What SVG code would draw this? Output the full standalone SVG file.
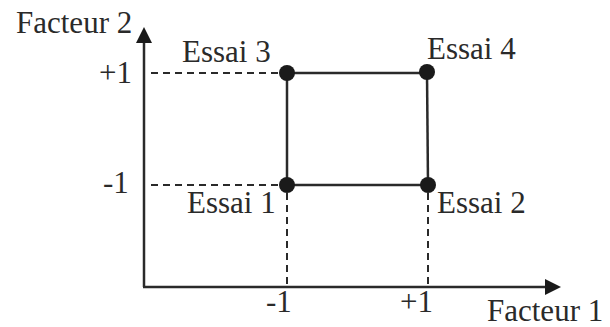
<svg xmlns="http://www.w3.org/2000/svg" width="610" height="327" viewBox="0 0 610 327">
<style>
text{font-family:"Liberation Serif","Times New Roman",serif;font-size:31px;fill:#2a2a2a}
.axis{stroke:#2a2a2a;stroke-width:2.5;fill:none}
.dash{stroke:#2a2a2a;stroke-width:2;stroke-dasharray:7 5;fill:none}
.edge{stroke:#2a2a2a;stroke-width:2.5;fill:none}
.pt{fill:#1a1a1a}
</style>
<rect width="610" height="327" fill="#fff"/>
<g id="axes">
<line class="axis" x1="144" y1="287" x2="144" y2="40"/>
<polygon points="144,27 136,43 152,43" fill="#1a1a1a"/>
<line class="axis" x1="143" y1="287" x2="546" y2="287"/>
<polygon points="561,287 545,279 545,295" fill="#1a1a1a"/>
<text x="16" y="33">Facteur 2</text>
<text x="487" y="321">Facteur 1</text>
<text x="99" y="83">+1</text>
<text x="103" y="193">-1</text>
<text x="266" y="312">-1</text>
<text x="400" y="312">+1</text>
</g>
<g id="connectors">
<line class="dash" x1="151" y1="73" x2="280" y2="73"/>
<line class="dash" x1="151" y1="185" x2="280" y2="185"/>
<line class="dash" x1="287" y1="193" x2="287" y2="286"/>
<line class="dash" x1="428" y1="193" x2="428" y2="286"/>
<line class="edge" x1="287" y1="73" x2="427" y2="73"/>
<line class="edge" x1="287" y1="185" x2="428" y2="185"/>
<line class="edge" x1="287" y1="73" x2="287" y2="185"/>
<line class="edge" x1="427" y1="73" x2="428" y2="185"/>
</g>
<g id="essai3"><circle class="pt" cx="287" cy="73" r="8"/><text x="182" y="62">Essai 3</text></g>
<g id="essai4"><circle class="pt" cx="427" cy="72" r="8"/><text x="427" y="59">Essai 4</text></g>
<g id="essai1"><circle class="pt" cx="287" cy="185" r="8"/><text x="187" y="213">Essai 1</text></g>
<g id="essai2"><circle class="pt" cx="428" cy="185" r="8"/><text x="437" y="213">Essai 2</text></g>
</svg>
